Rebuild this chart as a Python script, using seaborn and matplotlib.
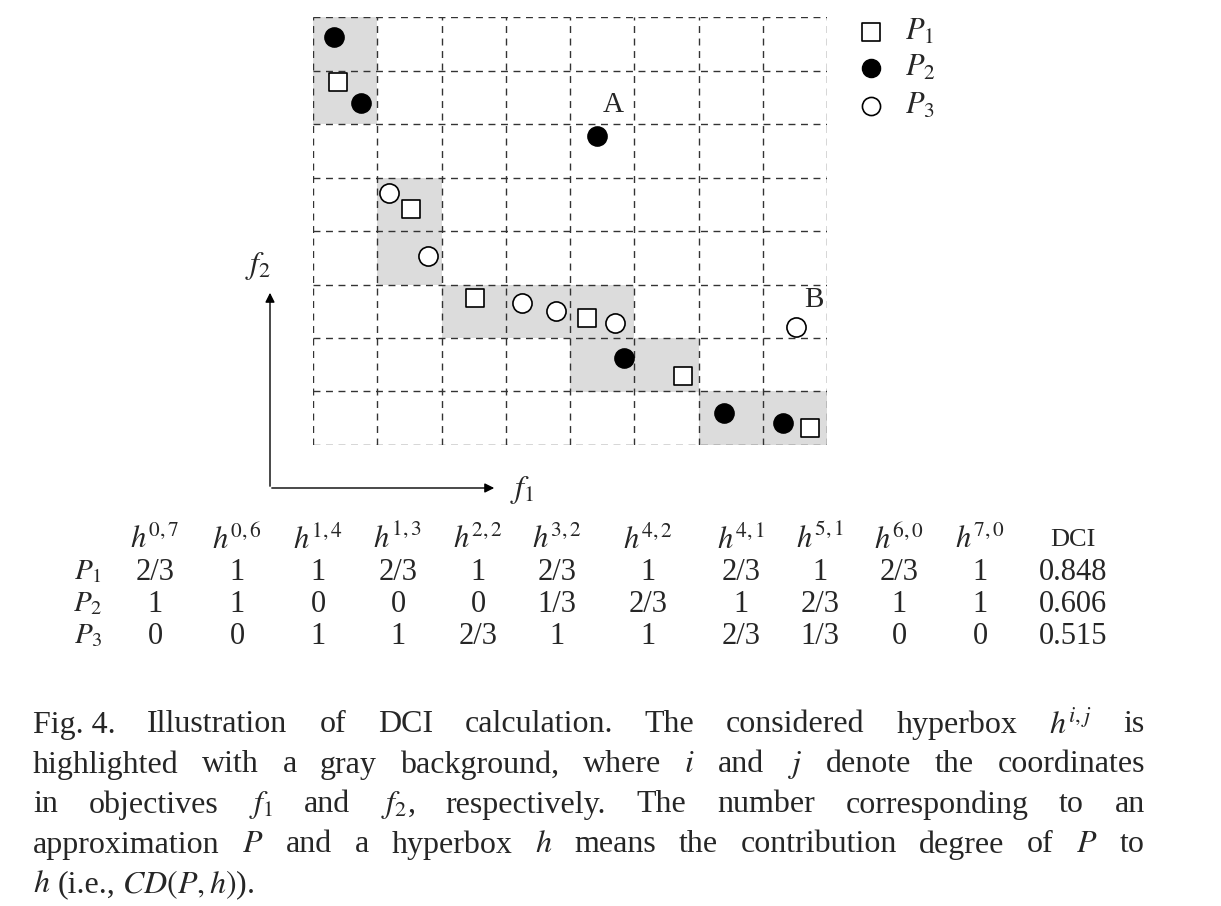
import matplotlib
matplotlib.use("Agg")
import matplotlib.pyplot as plt
from matplotlib.patches import Rectangle
import pandas as pd
import seaborn as sns

# hyperboxes (i, j) highlighted
box_i = [0, 0, 1, 1, 2, 3, 4, 4, 5, 6, 7]
box_j = [7, 6, 4, 3, 2, 2, 2, 1, 1, 0, 0]

p1_x = [0.39, 1.53, 2.52, 4.26, 5.76, 7.74]
p1_y = [6.79, 4.41, 2.75, 2.37, 1.29, 0.32]
p2_x = [0.33, 0.75, 4.42, 4.84, 6.40, 7.32]
p2_y = [7.63, 6.39, 5.78, 1.63, 0.60, 0.41]
p3_x = [1.18, 1.79, 3.25, 3.78, 4.70, 7.52]
p3_y = [4.71, 3.53, 2.65, 2.50, 2.28, 2.21]

row_labels = ["$P_1$", "$P_2$", "$P_3$"]
p1_vals = ["2/3", "1", "1", "2/3", "1", "2/3", "1", "2/3", "1", "2/3", "1", "0.848"]
p2_vals = ["1", "1", "0", "0", "0", "1/3", "2/3", "1", "2/3", "1", "1", "0.606"]
p3_vals = ["0", "0", "1", "1", "2/3", "1", "1", "2/3", "1/3", "0", "0", "0.515"]

caption = [
    ["Fig. 4.", "Illustration", "of", "DCI", "calculation.", "The", "considered", "hyperbox", "$h^{i,j}$", "is"],
    ["highlighted", "with", "a", "gray", "background,", "where", "$i$", "and", "$j$", "denote", "the", "coordinates"],
    ["in", "objectives", "$f_1$", "and", "$f_2$,", "respectively.", "The", "number", "corresponding", "to", "an"],
    ["approximation", "$P$", "and", "a", "hyperbox", "$h$", "means", "the", "contribution", "degree", "of", "$P$", "to"],
    ["$h$", "(i.e.,", "$CD(P,h)$)."],
]

sns.set_style("white")
plt.rcParams["font.family"] = ["Liberation Serif", "DejaVu Serif"]
plt.rcParams["mathtext.fontset"] = "stix"

W, H = 1221, 906
fig = plt.figure(figsize=(W / 100, H / 100), dpi=100)
ax = fig.add_axes([313 / W, 1 - 445 / H, 514 / W, 428 / H])
ax.set_xlim(0, 8)
ax.set_ylim(0, 8)
for i, j in zip(box_i, box_j):
    ax.add_patch(Rectangle((i, j), 1, 1, color="#dcdcdc", lw=0, zorder=0))
for k in range(9):
    ax.axvline(k, color="#333333", lw=1, ls=(0, (5, 4)), zorder=1)
    ax.axhline(k, color="#333333", lw=1, ls=(0, (5, 4)), zorder=1)
for s in ax.spines.values():
    s.set_visible(False)
ax.set_xticks([])
ax.set_yticks([])

pts = pd.DataFrame({
    "x": p1_x + p2_x + p3_x,
    "y": p1_y + p2_y + p3_y,
    "set": ["P1"] * 6 + ["P2"] * 6 + ["P3"] * 6,
})
sns.scatterplot(data=pts[pts.set == "P1"], x="x", y="y", marker="s", s=170,
                facecolor="white", edgecolor="black", linewidth=1.2, ax=ax, zorder=3)
sns.scatterplot(data=pts[pts.set == "P2"], x="x", y="y", marker="o", s=190,
                color="black", edgecolor="black", ax=ax, zorder=3)
sns.scatterplot(data=pts[pts.set == "P3"], x="x", y="y", marker="o", s=190,
                facecolor="white", edgecolor="black", linewidth=1.2, ax=ax, zorder=3)
ax.set_xlabel("")
ax.set_ylabel("")
ax.text(4.67, 6.36, "A", fontsize=21, ha="center", va="center")
ax.text(7.8, 2.71, "B", fontsize=21, ha="center", va="center")

# overlay in pixel coordinates
ov = fig.add_axes([0, 0, 1, 1])
ov.set_xlim(0, W)
ov.set_ylim(H, 0)
ov.axis("off")
ov.patch.set_alpha(0)

# legend
ov.scatter([871], [32], marker="s", s=150, facecolor="white", edgecolor="black", lw=1.2)
ov.scatter([871], [68], marker="o", s=170, color="black")
ov.scatter([871], [106], marker="o", s=170, facecolor="white", edgecolor="black", lw=1.2)
for yy, lab in zip([32, 68, 106], row_labels):
    ov.text(905, yy, lab, fontsize=22, va="center")

# axes arrows
ov.annotate("", xy=(270, 290), xytext=(270, 489),
            arrowprops=dict(arrowstyle="-|>", color="black", lw=1, mutation_scale=14))
ov.annotate("", xy=(497, 488), xytext=(269, 488),
            arrowprops=dict(arrowstyle="-|>", color="black", lw=1, mutation_scale=14))
ov.text(258, 266, "$f_2$", fontsize=23, ha="center", va="center")
ov.text(522, 490, "$f_1$", fontsize=23, ha="center", va="center")

# table
col_x = [155, 237, 318, 398, 478, 557, 648, 741, 820, 899, 980, 1073]
headers = ["$h^{%d,%d}$" % (i, j) for i, j in zip(box_i, box_j)]
for x, h in zip(col_x[:-1], headers):
    ov.text(x, 540, h, fontsize=22, ha="center", va="center")
ov.text(col_x[-1], 540, "DCI", fontsize=19, ha="center", va="center")
for yy, lab, vals in zip([572, 604, 636], row_labels, [p1_vals, p2_vals, p3_vals]):
    ov.text(88, yy, lab, fontsize=21, ha="center", va="center")
    for x, v in zip(col_x, vals):
        ov.text(x, yy, v, fontsize=22, ha="center", va="center")

# justified caption
fig.canvas.draw()
renderer = fig.canvas.get_renderer()
left, right = 33, 1145
for li, (words, yy) in enumerate(zip(caption, [725, 765, 805, 845, 885])):
    texts = [ov.text(0, yy, w, fontsize=23, va="center") for w in words]
    widths = [t.get_window_extent(renderer).width for t in texts]
    if li < len(caption) - 1:
        gap = (right - left - sum(widths)) / (len(words) - 1)
    else:
        gap = 7
    x = left
    for t, w in zip(texts, widths):
        t.set_x(x)
        x += w + gap

fig.savefig("out.png", dpi=100)
